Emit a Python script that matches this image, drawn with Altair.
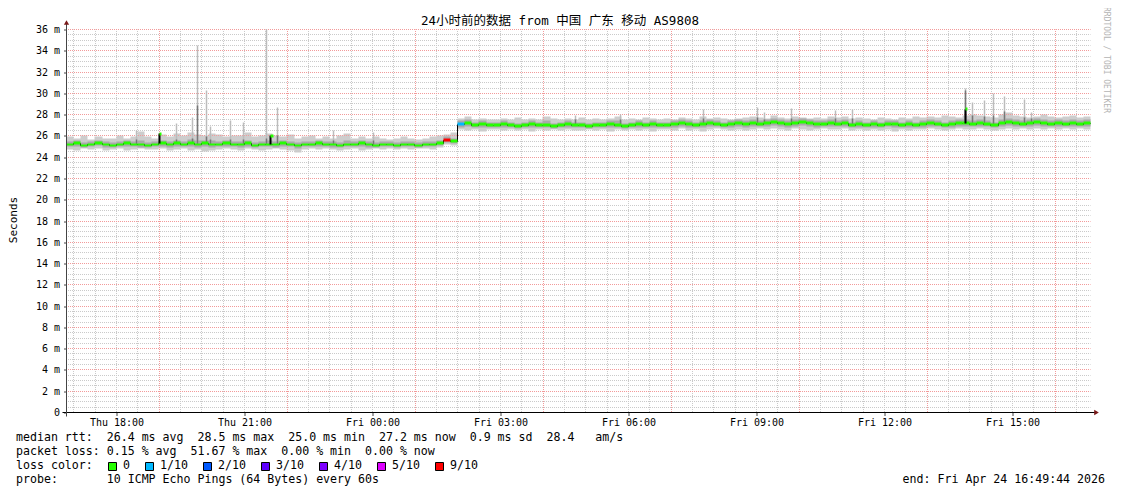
import altair as alt
import numpy as np
import pandas as pd

# ---------------- data ----------------
START_H = 16 + 49 / 60 + 44 / 3600      # Thu 16:49:44 as hours since Thu 00:00
SPAN_H = 24
STEP_MIN = 10

median_ms = [
    25.2, 25.3, 25.1, 25.2, 25.3, 25.2, 25.1, 25.2, 25.3, 25.2, 25.2, 25.1,
    25.2, 25.3, 25.2, 25.3, 25.2, 25.3, 25.2, 25.3, 25.2, 25.2, 25.3, 25.2,
    25.2, 25.3, 25.1, 25.2, 25.2, 25.2, 25.3, 25.2, 25.1, 25.2, 25.2, 25.3,
    25.2, 25.2, 25.1, 25.2, 25.2, 25.3, 25.2, 25.1, 25.2, 25.2, 25.1, 25.2,
    25.2, 25.1, 25.2, 25.2, 25.3, 25.6, 25.5, 27.1, 27.2, 27.0, 27.1, 27.0,
    27.0, 27.1, 27.0, 26.9, 27.0, 27.1, 27.0, 27.0, 26.9, 27.0, 27.1, 27.0,
    27.0, 26.9, 27.0, 27.0, 27.1, 27.0, 26.9, 27.0, 27.1, 27.0, 27.1, 27.0,
    27.0, 27.1, 27.2, 27.1, 27.0, 27.1, 27.2, 27.1, 27.0, 27.1, 27.2, 27.1,
    27.2, 27.1, 27.2, 27.3, 27.2, 27.1, 27.2, 27.3, 27.2, 27.1, 27.1, 27.2,
    27.1, 27.2, 27.0, 27.1, 27.0, 27.1, 27.0, 27.1, 27.1, 27.0, 27.1, 27.0,
    27.1, 27.2, 27.1, 27.0, 27.1, 27.2, 27.2, 27.1, 27.2, 27.1, 27.0, 27.2,
    27.3, 27.2, 27.1, 27.2, 27.3, 27.2, 27.1, 27.2, 27.1, 27.2, 27.1, 27.2, 27.2,
]

# short median spikes (hours since Thu 00:00, ms)
median_spike_hour = [19.00, 21.62, 37.90]
median_spike_ms = [26.2, 26.0, 28.5]

# outer smoke (lowest / highest ping of each step)
smoke_lo_ms = [
    24.7, 24.6, 24.8, 24.7, 24.8, 24.6, 24.7, 24.8, 24.6, 24.7, 24.8, 24.7,
    24.7, 24.8, 24.6, 24.7, 24.8, 24.6, 24.7, 24.5, 24.6, 24.7, 24.8, 24.7,
    24.6, 24.8, 24.7, 24.6, 24.7, 24.8, 24.7, 24.6, 24.4, 24.7, 24.8, 24.7,
    24.8, 24.7, 24.6, 24.7, 24.8, 24.6, 24.7, 24.8, 24.7, 24.8, 24.7, 24.8,
    24.7, 24.8, 24.8, 24.7, 24.9, 25.2, 25.1, 26.6, 26.5, 26.6, 26.4, 26.6,
    26.6, 26.5, 26.6, 26.5, 26.6, 26.4, 26.6, 26.5, 26.6, 26.5, 26.6, 26.5,
    26.5, 26.6, 26.5, 26.6, 26.4, 26.6, 26.5, 26.6, 26.5, 26.6, 26.4, 26.6,
    26.6, 26.5, 26.7, 26.5, 26.6, 26.4, 26.6, 26.7, 26.6, 26.5, 26.6, 26.5,
    26.6, 26.7, 26.6, 26.7, 26.6, 26.5, 26.7, 26.6, 26.5, 26.6, 26.7, 26.6,
    26.6, 26.7, 26.5, 26.6, 26.5, 26.6, 26.5, 26.6, 26.4, 26.6, 26.5, 26.6,
    26.6, 26.7, 26.6, 26.5, 26.6, 26.7, 26.6, 26.6, 26.7, 26.6, 26.5, 26.6,
    26.7, 26.6, 26.7, 26.6, 26.7, 26.6, 26.7, 26.6, 26.7, 26.6, 26.7, 26.6, 26.7,
]
smoke_hi_ms = [
    25.9, 25.8, 26.0, 25.7, 25.9, 25.8, 25.8, 26.0, 25.8, 25.9, 26.4, 25.9,
    25.8, 26.1, 25.9, 26.2, 26.0, 26.3, 26.1, 26.0, 26.2, 26.1, 25.9, 26.0,
    26.0, 26.3, 25.9, 26.0, 26.2, 26.0, 25.9, 26.1, 25.8, 25.9, 26.0, 25.8,
    25.9, 25.8, 26.0, 26.2, 25.8, 25.9, 25.8, 25.9, 25.8, 25.7, 25.8, 25.9,
    25.8, 25.7, 25.8, 25.9, 26.0, 26.1, 26.3, 27.6, 27.8, 27.5, 27.6, 27.5,
    27.5, 27.6, 27.5, 27.7, 27.5, 27.6, 27.5, 27.8, 27.6, 27.5, 27.6, 27.5,
    27.7, 27.5, 27.6, 27.5, 27.6, 27.8, 27.5, 27.6, 27.5, 27.7, 27.6, 27.5,
    27.6, 27.5, 27.7, 27.6, 27.5, 27.8, 27.6, 27.7, 27.6, 27.5, 27.6, 27.7,
    27.8, 27.7, 27.6, 27.9, 27.7, 27.6, 27.8, 27.7, 27.6, 27.7, 27.6, 27.8,
    27.7, 27.8, 27.6, 27.7, 27.6, 27.5, 27.7, 27.6, 27.5, 27.7, 27.6, 27.8,
    27.7, 27.8, 27.7, 27.9, 27.8, 27.7, 27.9, 28.0, 27.9, 27.8, 27.7, 28.0,
    28.2, 27.9, 27.8, 27.7, 27.8, 28.0, 27.8, 27.7, 27.8, 27.9, 27.7, 27.8, 27.8,
]
# inner (denser) smoke
inner_lo_ms = [
    25.0, 25.0, 24.9, 25.0, 25.1, 24.9, 24.9, 25.0, 25.0, 25.0, 24.9, 24.9,
    25.0, 25.0, 24.9, 25.0, 25.0, 25.0, 24.9, 25.0, 24.9, 25.0, 25.0, 25.0,
    24.9, 25.0, 24.9, 25.0, 25.0, 24.9, 25.0, 25.0, 24.8, 25.0, 25.0, 25.0,
    25.0, 24.9, 24.9, 25.0, 25.0, 25.0, 24.9, 24.9, 25.0, 25.0, 24.9, 25.0,
    25.0, 24.9, 25.0, 25.0, 25.1, 25.4, 25.3, 26.8, 26.9, 26.8, 26.8, 26.8,
    26.8, 26.8, 26.8, 26.7, 26.8, 26.8, 26.8, 26.8, 26.7, 26.8, 26.8, 26.8,
    26.8, 26.7, 26.8, 26.8, 26.8, 26.8, 26.7, 26.8, 26.8, 26.8, 26.8, 26.8,
    26.8, 26.8, 26.9, 26.8, 26.8, 26.8, 26.9, 26.9, 26.8, 26.8, 26.9, 26.8,
    26.9, 26.9, 26.9, 27.0, 26.9, 26.8, 26.9, 27.0, 26.9, 26.8, 26.9, 26.9,
    26.9, 26.9, 26.8, 26.8, 26.8, 26.8, 26.8, 26.9, 26.8, 26.8, 26.8, 26.8,
    26.8, 26.9, 26.9, 26.8, 26.8, 26.9, 26.9, 26.9, 26.9, 26.9, 26.8, 26.9,
    27.0, 26.9, 26.9, 26.9, 27.0, 26.9, 26.9, 26.9, 26.9, 26.9, 26.9, 26.9, 26.9,
]
inner_hi_ms = [
    25.5, 25.6, 25.4, 25.5, 25.6, 25.5, 25.4, 25.5, 25.6, 25.5, 25.6, 25.4,
    25.5, 25.6, 25.5, 25.6, 25.5, 25.7, 25.6, 25.6, 25.6, 25.5, 25.6, 25.5,
    25.5, 25.6, 25.4, 25.5, 25.6, 25.5, 25.6, 25.5, 25.4, 25.5, 25.5, 25.6,
    25.5, 25.5, 25.4, 25.6, 25.5, 25.6, 25.5, 25.4, 25.5, 25.5, 25.4, 25.5,
    25.5, 25.4, 25.5, 25.5, 25.6, 25.9, 25.8, 27.4, 27.5, 27.3, 27.4, 27.3,
    27.3, 27.4, 27.3, 27.2, 27.3, 27.4, 27.3, 27.4, 27.2, 27.3, 27.4, 27.3,
    27.3, 27.2, 27.3, 27.3, 27.4, 27.4, 27.2, 27.3, 27.4, 27.3, 27.4, 27.3,
    27.3, 27.4, 27.5, 27.4, 27.3, 27.4, 27.5, 27.4, 27.3, 27.4, 27.5, 27.4,
    27.5, 27.4, 27.5, 27.6, 27.5, 27.4, 27.5, 27.6, 27.5, 27.4, 27.4, 27.5,
    27.4, 27.5, 27.3, 27.4, 27.3, 27.4, 27.3, 27.4, 27.4, 27.3, 27.4, 27.3,
    27.4, 27.5, 27.4, 27.3, 27.4, 27.5, 27.5, 27.4, 27.5, 27.4, 27.3, 27.5,
    27.6, 27.5, 27.4, 27.5, 27.6, 27.5, 27.4, 27.5, 27.4, 27.5, 27.4, 27.5, 27.5,
]

# index of 10-minute step -> loss bucket (all others are 0)
loss_marks = {53: "9/10", 55: "1/10"}

# isolated smoke spikes: time (hours since Thu 00:00), top, top of the darker core
spike_hour = [18.47, 19.41, 19.78, 19.90, 20.11, 20.20, 20.67, 20.98, 21.52, 21.77,
              23.09, 24.02, 28.76, 29.81, 31.76, 33.02, 33.19, 33.82, 34.85, 35.25,
              37.90, 38.06, 38.35, 38.56, 38.81, 39.28, 39.45]
spike_top_ms = [26.5, 27.2, 27.7, 34.5, 30.3, 26.9, 27.4, 27.3, 36.0, 28.7,
                26.5, 26.3, 27.9, 28.0, 28.5, 28.7, 28.2, 28.6, 28.4, 28.5,
                30.5, 29.1, 29.3, 30.0, 29.7, 29.4, 28.2]
spike_core_ms = [25.7, 25.7, 25.8, 28.9, 25.9, 25.7, 25.7, 25.7, 25.8, 26.0,
                 25.6, 25.6, 27.5, 27.5, 27.6, 27.7, 27.5, 27.6, 27.6, 27.6,
                 30.3, 27.9, 27.8, 27.9, 28.3, 27.7, 27.6]

x_label_hours = [18, 21, 24, 27, 30, 33, 36, 39]
y_label_ms = list(range(0, 37, 2))

loss_names = ["0", "1/10", "2/10", "3/10", "4/10", "5/10", "9/10"]
loss_colors = ["#26ff00", "#00b8ff", "#0059ff", "#5e00ff", "#7e00ff", "#dd00ff", "#ff0000"]

title_text = "24小时前的数据 from 中国 广东 移动 AS9808"
legend_lines = [
    "median rtt:  26.4 ms avg  28.5 ms max  25.0 ms min  27.2 ms now  0.9 ms sd  28.4   am/s",
    "packet loss: 0.15 % avg  51.67 % max  0.00 % min  0.00 % now",
    "loss color:",
    "probe:       10 ICMP Echo Pings (64 Bytes) every 60s",
]
end_text = "end: Fri Apr 24 16:49:44 2026"
side_text = "RRDTOOL / TOBI OETIKER"

# ---------------- layout ----------------
W, H = 1024, 383
PAD = {"left": 58.5, "top": 21.5, "right": 22.5, "bottom": 73.5}
MONO = "DejaVu Sans Mono"
NB = "\u00a0"

n = len(median_ms)
assert n == len(smoke_lo_ms) == len(smoke_hi_ms) == len(inner_lo_ms) == len(inner_hi_ms) == 145
hours = START_H + np.arange(n) * STEP_MIN / 60
df = pd.DataFrame({
    "t": hours,
    "t2": hours + STEP_MIN / 60,
    "med": median_ms,
    "lo": smoke_lo_ms,
    "hi": smoke_hi_ms,
    "ilo": inner_lo_ms,
    "ihi": inner_hi_ms,
    "loss": [loss_marks.get(i, "0") for i in range(n)],
})


def base_at(h):
    return median_ms[int((h - START_H) * 60 / STEP_MIN)]


sp = pd.DataFrame({"t": spike_hour, "top": spike_top_ms, "core": spike_core_ms})
sp["base"] = [base_at(h) for h in spike_hour]
msp = pd.DataFrame({"t": median_spike_hour, "v": median_spike_ms})
msp["base"] = [base_at(h) for h in median_spike_hour]

xs = alt.Scale(domain=[START_H, START_H + SPAN_H], nice=False, zero=False, round=True)
ys = alt.Scale(domain=[0, 36], nice=False, zero=False, round=True)

x_axis = alt.Axis(
    values=x_label_hours, grid=False, domain=False, title=None,
    labelExpr="(datum.value < 24 ? 'Thu ' : 'Fri ') + (datum.value % 24 < 10 ? '0' : '') + (datum.value % 24) + ':00'",
    labelFont=MONO, labelFontSize=10, labelColor="#000", tickSize=3, tickColor="#444",
    labelPadding=2, labelFlush=False, labelOverlap=False,
)
y_axis = alt.Axis(
    values=y_label_ms, grid=False, domain=False, title=None,
    labelExpr="datum.value == 0 ? '0" + NB + NB + "' : datum.value + ' m'",
    labelFont=MONO, labelFontSize=10, labelColor="#000", tickSize=3, tickColor="#444",
    labelPadding=4, labelFlush=False, labelOverlap=False,
)


def X(f):
    return alt.X(f, scale=xs, axis=x_axis)


def Y(f):
    return alt.Y(f, scale=ys, axis=y_axis)


major_x = [19, 22, 25, 28, 31, 34, 37, 40]
minor_x = [v for v in np.arange(17, 41, 0.5) if v not in major_x]
major_y = list(range(2, 37, 2))
minor_y = [v for v in np.arange(0.5, 36.01, 0.5) if v not in major_y]

GRID_MINOR = "#cacaca"
GRID_MAJOR = "#f29a9a"
DASH = dict(strokeDash=[1, 1], strokeDashOffset=0.5, strokeWidth=1)

g_minor_x = alt.Chart(pd.DataFrame({"v": minor_x})).mark_rule(color=GRID_MINOR, **DASH).encode(x=X("v:Q"))
g_minor_y = alt.Chart(pd.DataFrame({"v": minor_y})).mark_rule(color=GRID_MINOR, **DASH).encode(y=Y("v:Q"))
g_major_x = alt.Chart(pd.DataFrame({"v": major_x})).mark_rule(color=GRID_MAJOR, **DASH).encode(x=X("v:Q"))
g_major_y = alt.Chart(pd.DataFrame({"v": major_y})).mark_rule(color=GRID_MAJOR, **DASH).encode(y=Y("v:Q"))

smoke = alt.Chart(df).mark_area(interpolate="step-after", color="#cdcdcd").encode(
    x=X("t:Q"), y=Y("lo:Q"), y2="hi:Q")
smoke_in = alt.Chart(df).mark_area(interpolate="step-after", color="#a9a9a9").encode(
    x=X("t:Q"), y=Y("ilo:Q"), y2="ihi:Q")
spike_light = alt.Chart(sp).mark_rule(color="#bcbcbc", strokeWidth=1.5).encode(
    x=X("t:Q"), y=Y("base:Q"), y2="top:Q")
spike_dark = alt.Chart(sp).mark_rule(color="#777777", strokeWidth=1.5).encode(
    x=X("t:Q"), y=Y("base:Q"), y2="core:Q")
med_line = alt.Chart(df).mark_line(interpolate="step-after", color="#000", strokeWidth=1).encode(
    x=X("t:Q"), y=Y("med:Q"))
med_color = alt.Chart(df).transform_filter(
    alt.datum.t2 <= START_H + SPAN_H + 0.001
).transform_calculate(
    m0="datum.med - 0.13", m1="datum.med + 0.13"
).mark_rect().encode(
    x=X("t:Q"), x2="t2:Q",
    y=Y("m0:Q"), y2="m1:Q",
    color=alt.Color("loss:N", scale=alt.Scale(domain=loss_names, range=loss_colors), legend=None),
)
msp_line = alt.Chart(msp).mark_rule(color="#000", strokeWidth=2).encode(
    x=X("t:Q"), y=Y("base:Q"), y2="v:Q")
msp_cap = alt.Chart(msp).transform_calculate(
    t2="datum.t + 0.05", v0="datum.v - 0.13", v1="datum.v + 0.13"
).mark_rect(color="#26ff00").encode(x=X("t:Q"), x2="t2:Q", y=Y("v0:Q"), y2="v1:Q")

one = pd.DataFrame({"a": [0]})
x_domain = alt.Chart(one).mark_rule(color="#000", strokeWidth=1).encode(
    x=alt.value(-4), x2=alt.value(W + 5), y=alt.value(H))
y_domain = alt.Chart(one).mark_rule(color="#444", strokeWidth=1).encode(
    x=alt.value(0), y=alt.value(-6), y2=alt.value(H + 4))
x_arrow = alt.Chart(one).mark_point(shape="triangle-right", filled=True, color="#7a1a1a",
                                    size=28, opacity=1).encode(x=alt.value(W + 6), y=alt.value(H))
y_arrow = alt.Chart(one).mark_point(shape="triangle-up", filled=True, color="#7a1a1a",
                                    size=28, opacity=1).encode(x=alt.value(0), y=alt.value(-7))


def txt(s, x, y, size=11.6, align="left", angle=0, color="#000", font=MONO, baseline="middle"):
    return alt.Chart(one).mark_text(
        text=s.replace(" ", NB), font=font, fontSize=size, align=align, baseline=baseline,
        angle=angle, color=color,
    ).encode(x=alt.value(x), y=alt.value(y))


ox, oy = 66.5, 29.5  # page position of the plot origin
texts = [
    alt.Chart(one).mark_text(text=title_text, font=MONO + ", Noto Sans CJK SC", fontSize=12.5,
                             align="center", baseline="middle", color="#000").encode(
        x=alt.value(560 - ox), y=alt.value(21 - oy)),
    txt("Seconds", 14 - ox, 220 - oy, size=11, align="center", angle=270),
    txt(side_text, 1106 - ox, 60 - oy, size=8, align="center", angle=90, color="#b4b4b4"),
    txt(legend_lines[0], 16 - ox, 438 - oy),
    txt(legend_lines[1], 16 - ox, 452 - oy),
    txt(legend_lines[2], 16 - ox, 466 - oy),
    txt(legend_lines[3], 16 - ox, 480 - oy),
    txt(end_text, 1105 - ox, 480 - oy, align="right"),
]

box_left = [108, 145, 203, 261, 319, 377, 435]
boxes = []
for name, col, bx in zip(loss_names, loss_colors, box_left):
    boxes.append(alt.Chart(one).mark_rect(fill=col, stroke="#000", strokeWidth=1).encode(
        x=alt.value(bx - ox + 0.5), x2=alt.value(bx - ox + 8.5),
        y=alt.value(462 - oy + 0.5), y2=alt.value(470 - oy + 0.5)))
    boxes.append(txt(name, bx + 15 - ox, 466 - oy))

chart = alt.layer(
    smoke, g_minor_x, g_minor_y, g_major_x, g_major_y,
    smoke_in, spike_light, spike_dark, med_line, med_color, msp_line, msp_cap,
    x_domain, y_domain, x_arrow, y_arrow,
    *texts, *boxes,
).properties(
    width=W, height=H,
    autosize=alt.AutoSizeParams(type="none"),
    padding=PAD,
    background="#ffffff",
).configure_view(stroke=None)

chart.save("out.html", embed_options={"renderer": "svg", "actions": False})
